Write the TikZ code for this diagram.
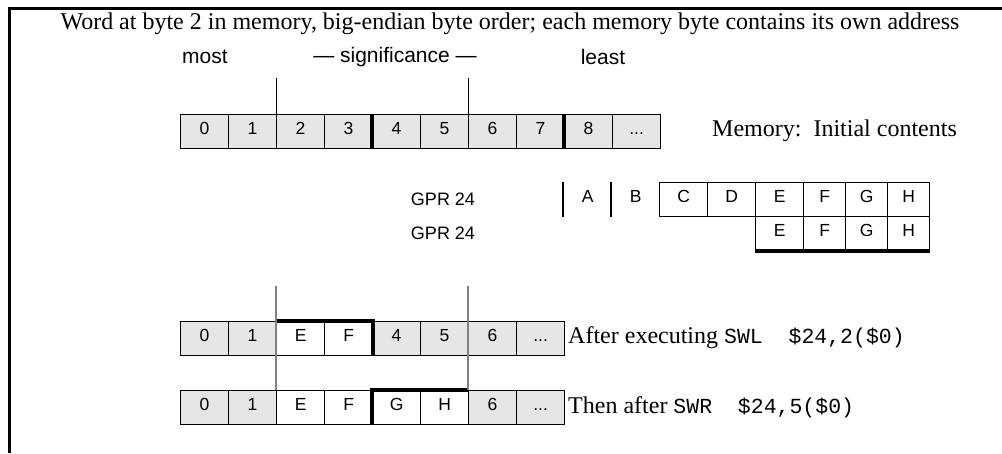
\documentclass[tikz,border=0pt]{standalone}
\usepackage{fontspec}
\setmainfont{Liberation Serif}
\setsansfont{Liberation Sans}
\setmonofont{Liberation Mono}
\definecolor{cellgray}{HTML}{E6E6E6}
\tikzset{
    cell/.style={rectangle, draw, line width=1.2pt, minimum width=48pt, minimum height=34pt,
                 inner sep=0pt, anchor=north west, text height=13pt, text depth=8pt,
                 font=\sffamily\fontsize{17.5}{20}\selectfont},
    memcell/.style={cell, fill=cellgray},
    regcell/.style={cell, fill=white},
    narrow/.style={minimum width=42pt},
    wordedge/.style={draw, line width=4pt},
    marker/.style={draw, line width=1pt},
    guide/.style={draw, gray, line width=1.2pt},
    note/.style={inner sep=0pt, font=\fontsize{24}{28}\selectfont},
    sanslabel/.style={inner sep=0pt, font=\sffamily\fontsize{18}{21}\selectfont},
    heading/.style={inner sep=0pt, font=\sffamily\fontsize{21}{25}\selectfont}
}
\newcommand{\instr}[1]{{\fontsize{21.5}{26}\selectfont\ttfamily #1}}
\begin{document}
\begin{tikzpicture}[x=1pt, y=-1pt]
    \useasboundingbox (0,0) rectangle (1002,453);
    \draw[line width=2.5pt] (9.5,453) -- (9.5,8.5) -- (1002,8.5);

    % Headings
    \node[note] (title) at (510,24) {Word at byte 2 in memory, big-endian byte order; each memory byte contains its own address};
    \node[heading] (most) at (205,57) {most};
    \node[heading] (signif) at (395,57) {— significance —};
    \node[heading] (least) at (603,57) {least};

    % Memory, initial contents
    \node[memcell] (m0) at (180,114) {0};
    \node[memcell] (m1) at (228,114) {1};
    \node[memcell] (m2) at (276,114) {2};
    \node[memcell] (m3) at (324,114) {3};
    \node[memcell] (m4) at (372,114) {4};
    \node[memcell] (m5) at (420,114) {5};
    \node[memcell] (m6) at (468,114) {6};
    \node[memcell] (m7) at (516,114) {7};
    \node[memcell] (m8) at (564,114) {8};
    \node[memcell] (m9) at (612,114) {...};
    \node[note, anchor=west] (init) at (712,131) {Memory:\ \ Initial contents};

    \coordinate (top2) at (276,78);
    \coordinate (top6) at (468,78);
    \draw[marker] (top2) -- (m2.north west);
    \draw[marker] (top6) -- (m6.north west);
    \draw[wordedge] (m4.north west) -- (m4.south west);
    \draw[wordedge] (m8.north west) -- (m8.south west);

    % GPR 24
    \node[sanslabel] (gpr) at (443,199) {GPR 24};
    \node[sanslabel] (gprlo) at (443,233) {GPR 24};
    \node[regcell, draw=none] (ra) at (563,182) {A};
    \node[regcell, draw=none] (rb) at (611,182) {B};
    \node[regcell] (rc) at (659,182) {C};
    \node[regcell] (rd) at (707,182) {D};
    \node[regcell] (re) at (755,182) {E};
    \node[regcell, narrow] (rf) at (803,182) {F};
    \node[regcell, narrow] (rg) at (845,182) {G};
    \node[regcell, narrow] (rh) at (887,182) {H};
    \draw[line width=1.2pt] (ra.north west) -- (ra.south west);
    \draw[line width=1.2pt] (rb.north west) -- (rb.south west);

    \node[regcell] (le) at (755,216) {E};
    \node[regcell, narrow] (lf) at (803,216) {F};
    \node[regcell, narrow] (lg) at (845,216) {G};
    \node[regcell, narrow] (lh) at (887,216) {H};
    \draw[wordedge] (le.south west) -- (lh.south east);

    % After SWL
    \node[memcell] (s0) at (180,321) {0};
    \node[memcell] (s1) at (228,321) {1};
    \node[regcell] (s2) at (276,321) {E};
    \node[regcell] (s3) at (324,321) {F};
    \node[memcell] (s4) at (372,321) {4};
    \node[memcell] (s5) at (420,321) {5};
    \node[memcell] (s6) at (468,321) {6};
    \node[memcell] (s7) at (516,321) {...};
    \draw[wordedge] (s2.north west) -- (s3.north east) -- (s3.south east);
    \node[note, anchor=west] (swl) at (568,338) {After executing \instr{SWL\ \ \$24,2(\$0)}};

    % Then after SWR
    \node[memcell] (w0) at (180,390) {0};
    \node[memcell] (w1) at (228,390) {1};
    \node[regcell] (w2) at (276,390) {E};
    \node[regcell] (w3) at (324,390) {F};
    \node[regcell] (w4) at (372,390) {G};
    \node[regcell] (w5) at (420,390) {H};
    \node[memcell] (w6) at (468,390) {6};
    \node[memcell] (w7) at (516,390) {...};
    \draw[wordedge] (w4.south west) -- (w4.north west) -- (w5.north east);
    \node[note, anchor=west] (swr) at (568,407) {Then after \instr{SWR\ \ \$24,5(\$0)}};

    \coordinate (mid2) at (276,286);
    \coordinate (mid6) at (468,286);
    \draw[guide] (mid2) -- (w2.north west);
    \draw[guide] (mid6) -- (w6.north west);
\end{tikzpicture}
\end{document}
